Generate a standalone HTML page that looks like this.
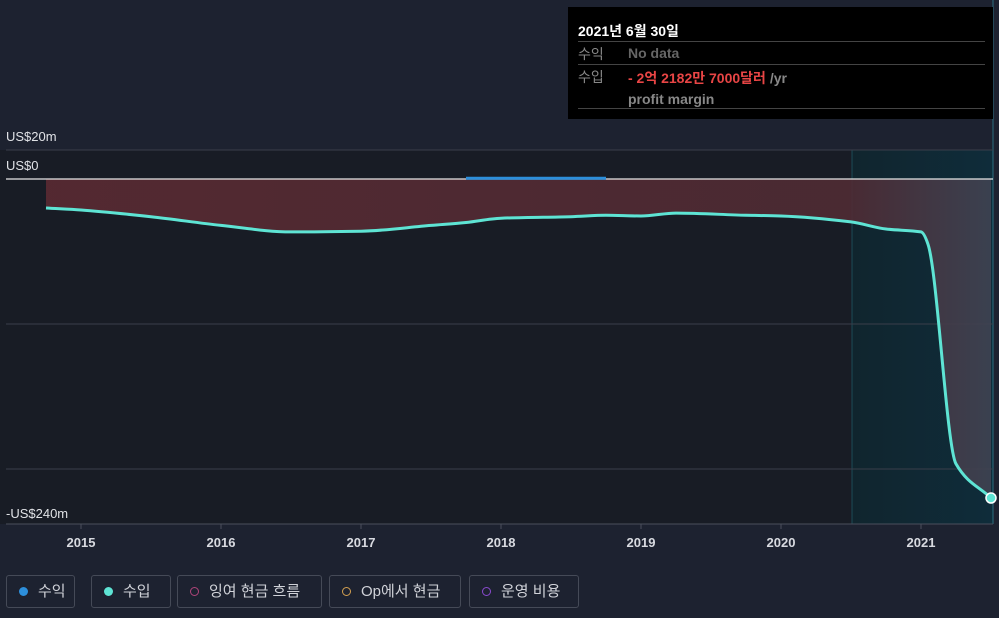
<!DOCTYPE html>
<html><head><meta charset="utf-8"><style>
body{margin:0;background:#1d2230;width:999px;height:618px;overflow:hidden;font-family:"Liberation Sans","Noto Sans CJK KR",sans-serif}
svg{position:absolute;left:0;top:0}
.lg{position:absolute;top:575px;height:33px;border:1px solid #454a57;border-radius:3px;box-sizing:border-box;color:#d0d2d8;font-size:15px;line-height:31px;padding-left:12px}
.dot{display:inline-block;width:9px;height:9px;border-radius:50%;margin-right:10px;vertical-align:-0px;box-sizing:border-box}
</style></head><body>
<svg width="999" height="618">
<rect x="0" y="150" width="852" height="374" fill="#181c25"/>
<defs><linearGradient id="hg" x1="0" x2="1"><stop offset="0" stop-color="#10252e"/><stop offset="1" stop-color="#0f2c3a"/></linearGradient>
<linearGradient id="rg" x1="0" x2="1"><stop offset="0" stop-color="#5a2a32"/><stop offset="0.85" stop-color="#4f2b34"/><stop offset="1" stop-color="#3f4352"/></linearGradient></defs>
<rect x="852" y="150" width="141" height="374" fill="url(#hg)"/>
<line x1="852" y1="150" x2="852" y2="524" stroke="#1d4a57"/>
<line x1="993" y1="0" x2="993" y2="524" stroke="#2a6f80"/>
<g id="grid"></g>
<path id="area" fill="url(#rg)" opacity="0.9"/>
<line id="zero" x1="6" x2="993" stroke="#e6e6e6" stroke-width="1.2"/>
<path id="rev" fill="none" stroke="#2d8fdb" stroke-width="3"/>
<path id="earn" fill="none" stroke="#5ee4d4" stroke-width="3"/>
<circle id="edot" r="5" fill="#5ee4d4" stroke="#fff" stroke-width="1.5"/>
<line x1="6" x2="993" y1="524" y2="524" stroke="#4a4f5c"/>
<g id="xt"></g><g id="yl"></g>
</svg>
<div style="position:absolute;left:568px;top:7px;width:425px;height:112px;background:#000">
<div style="position:absolute;left:10px;top:14px;color:#fff;font-size:14px;font-weight:bold">2021년 6월 30일</div>
<div style="position:absolute;left:10px;right:8px;top:34px;border-top:1px solid #444"></div>
<div style="position:absolute;left:10px;top:37px;color:#888;font-size:14px">수익</div>
<div style="position:absolute;left:60px;top:38px;color:#666;font-size:14px;font-weight:bold">No data</div>
<div style="position:absolute;left:10px;right:8px;top:57px;border-top:1px solid #444"></div>
<div style="position:absolute;left:10px;top:60px;color:#888;font-size:14px">수입</div>
<div style="position:absolute;left:60px;top:61px;font-size:14px;font-weight:bold"><span style="color:#e84545">- 2억 2182만 7000달러</span> <span style="color:#888">/yr</span></div>
<div style="position:absolute;left:60px;top:84px;color:#888;font-size:14px;font-weight:bold">profit margin</div>
<div style="position:absolute;left:10px;right:8px;top:101px;border-top:1px solid #444"></div>
</div>
<div class="lg" style="left:6px;width:69px"><span class="dot" style="background:#2d8fdb"></span>수익</div>
<div class="lg" style="left:91px;width:80px"><span class="dot" style="background:#5ee4d4"></span>수입</div>
<div class="lg" style="left:177px;width:145px"><span class="dot" style="border:1.5px solid #b0457a"></span>잉여 현금 흐름</div>
<div class="lg" style="left:329px;width:132px"><span class="dot" style="border:1.5px solid #d4a050"></span>Op에서 현금</div>
<div class="lg" style="left:469px;width:110px"><span class="dot" style="border:1.5px solid #8a4ad0"></span>운영 비용</div>
<script>
const earnYears=[2014.75,2015,2015.5,2016,2016.5,2017,2017.5,2017.75,2018,2018.5,2018.75,2019,2019.25,2019.75,2020,2020.5,2020.75,2021,2021.05,2021.25,2021.5];
const earnValues=[-20,-21.4,-26,-32,-36.5,-36,-32,-30,-27,-26,-25,-25.5,-23.5,-25,-25.5,-29.6,-34.5,-36.5,-45,-196.5,-220];
const revYears=[2017.75,2018.75];
const revValues=[0.5,0.5];
const xTicks=[2015,2016,2017,2018,2019,2020,2021];
const yLabels=[20,0,-240];
const yGrid=[20,-100,-200];
const X=y=>81+(y-2015)*140, Y=v=>179-v*1.45;
const ns='http://www.w3.org/2000/svg';
function pathD(xs,vs){
  const p=xs.map((x,i)=>[X(x),Y(vs[i])]);
  const n=p.length;
  if(n<3)return p.map((q,i)=>(i?'L':'M')+q[0].toFixed(1)+','+q[1].toFixed(1)).join('');
  // monotone cubic
  const d=[],m=[];
  for(let i=0;i<n-1;i++)d.push((p[i+1][1]-p[i][1])/(p[i+1][0]-p[i][0]));
  m[0]=d[0];m[n-1]=d[n-2];
  for(let i=1;i<n-1;i++){m[i]=(d[i-1]*d[i]<=0)?0:2/(1/d[i-1]+1/d[i]);}
  let s='M'+p[0][0].toFixed(1)+','+p[0][1].toFixed(1);
  for(let i=0;i<n-1;i++){const h=(p[i+1][0]-p[i][0])/3;
    s+='C'+(p[i][0]+h).toFixed(1)+','+(p[i][1]+m[i]*h).toFixed(1)+' '+(p[i+1][0]-h).toFixed(1)+','+(p[i+1][1]-m[i+1]*h).toFixed(1)+' '+p[i+1][0].toFixed(1)+','+p[i+1][1].toFixed(1);}
  return s;}
document.getElementById('earn').setAttribute('d',pathD(earnYears,earnValues));
document.getElementById('rev').setAttribute('d',pathD(revYears,revValues));
document.getElementById('area').setAttribute('d',pathD(earnYears,earnValues)+'L'+X(earnYears[earnYears.length-1])+','+Y(0)+'L'+X(earnYears[0])+','+Y(0)+'Z');
const z=document.getElementById('zero');z.setAttribute('y1',Y(0));z.setAttribute('y2',Y(0));
const ed=document.getElementById('edot');ed.setAttribute('cx',X(earnYears[earnYears.length-1]));ed.setAttribute('cy',Y(earnValues[earnValues.length-1]));
const g=document.getElementById('grid');
yGrid.forEach(v=>{const l=document.createElementNS(ns,'line');


l.setAttribute('x1',6);l.setAttribute('x2',993);l.setAttribute('y1',Y(v));l.setAttribute('y2',Y(v));l.setAttribute('stroke','#3a3e4a');g.appendChild(l);});
const xt=document.getElementById('xt');
xTicks.forEach(t=>{const l=document.createElementNS(ns,'line');


l.setAttribute('x1',X(t));l.setAttribute('x2',X(t));l.setAttribute('y1',524);l.setAttribute('y2',529);l.setAttribute('stroke','#4a4f5c');xt.appendChild(l);
const tx=document.createElementNS(ns,'text');


tx.setAttribute('x',X(t));tx.setAttribute('y',547);tx.setAttribute('text-anchor','middle');tx.setAttribute('fill','#d8dae0');tx.setAttribute('font-size','13');tx.setAttribute('font-weight','bold');tx.textContent=t;xt.appendChild(tx);});
const yl=document.getElementById('yl');
yLabels.forEach(v=>{const tx=document.createElementNS(ns,'text');


tx.setAttribute('x',6);tx.setAttribute('y',Y(v)-9);tx.setAttribute('fill','#e0e2e6');tx.setAttribute('font-size','13');
tx.textContent=(v<0?'-':'')+'US$'+Math.abs(v)+(v!==0?'m':'');yl.appendChild(tx);});
</script>
</body></html>
